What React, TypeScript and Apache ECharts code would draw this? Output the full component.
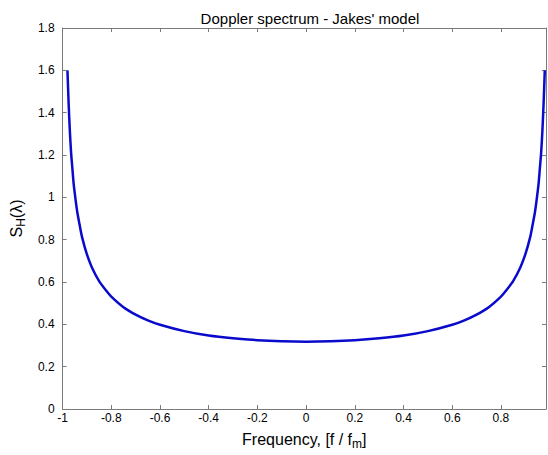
import React, { useEffect, useRef } from "react";
import * as echarts from "echarts";

const freq = [
  -0.98, -0.975, -0.97, -0.965, -0.96, -0.955, -0.95, -0.94, -0.93, -0.92, -0.9, -0.88, -0.85, -0.82, -0.8, -0.75, -0.7,
  -0.65, -0.6, -0.5, -0.4, -0.3, -0.2, -0.1, 0, 0.1, 0.2, 0.3, 0.4, 0.5, 0.6, 0.65, 0.7, 0.75, 0.8, 0.82, 0.85, 0.88,
  0.9, 0.92, 0.93, 0.94, 0.95, 0.955, 0.96, 0.965, 0.97, 0.975, 0.98,
];
const spectrum = [
  1.6, 1.44, 1.31, 1.21, 1.14, 1.07, 1.02, 0.933, 0.87, 0.812, 0.73, 0.67, 0.604, 0.558, 0.531, 0.481, 0.446,
  0.419, 0.398, 0.368, 0.347, 0.334, 0.325, 0.32, 0.318, 0.32, 0.325, 0.334, 0.347, 0.368, 0.398, 0.419, 0.446,
  0.481, 0.531, 0.558, 0.604, 0.67, 0.73, 0.812, 0.87, 0.933, 1.02, 1.07, 1.14, 1.21, 1.31, 1.44, 1.6,
];
const titleText = "Doppler spectrum - Jakes' model";

export default function App() {
  const ref = useRef<HTMLDivElement>(null);
  useEffect(() => {
    if (!ref.current) return;
    const chart = echarts.init(ref.current, undefined, { renderer: "svg" });
    const font = "'Liberation Sans', Arial, sans-serif";
    const axisLine = { show: true, onZero: false, lineStyle: { color: "#7a7a7a", width: 1 } };
    const tick = { show: true, inside: true, length: 4, lineStyle: { color: "#7a7a7a" } };
    chart.setOption({
      animation: false,
      backgroundColor: "#ffffff",
      title: {
        text: titleText,
        left: 305,
        textAlign: "center",
        top: 6,
        textStyle: { fontFamily: font, fontSize: 15, fontWeight: "normal", color: "#000" },
      },
      grid: { left: 62, right: 2, top: 28, bottom: 41, containLabel: false },
      xAxis: [
        {
          type: "value",
          min: -1,
          max: 0.985,
          interval: 0.2,
          axisLine,
          axisTick: tick,
          splitLine: { show: false },
          axisLabel: { showMaxLabel: false, fontFamily: font, fontSize: 12, color: "#000", margin: 3 },
          name: "{a|Frequency, [f / f}{s|m}{a|]}",
          nameLocation: "middle",
          nameGap: 19,
          nameTextStyle: {
            rich: {
              a: { fontFamily: font, fontSize: 16, color: "#000" },
              s: { fontFamily: font, fontSize: 12, color: "#000", verticalAlign: "top", padding: [10, 0, 0, 0] },
            },
          },
        },
        {
          type: "value",
          position: "top",
          min: -1,
          max: 0.985,
          interval: 0.2,
          axisLine,
          axisTick: tick,
          axisLabel: { show: false },
          splitLine: { show: false },
        },
      ],
      yAxis: [
        {
          type: "value",
          min: 0,
          max: 1.8,
          interval: 0.2,
          axisLine,
          axisTick: tick,
          splitLine: { show: false },
          axisLabel: { fontFamily: font, fontSize: 12, color: "#000", margin: 8 },
          name: "{a|S}{s|H}{a|(λ)}",
          nameLocation: "middle",
          nameGap: 27,
          nameRotate: 90,
          nameTextStyle: {
            rich: {
              a: { fontFamily: font, fontSize: 16, color: "#000" },
              s: { fontFamily: font, fontSize: 12, color: "#000", padding: [10, 0, 0, 0] },
            },
          },
        },
        {
          type: "value",
          position: "right",
          min: 0,
          max: 1.8,
          interval: 0.2,
          axisLine,
          axisTick: tick,
          axisLabel: { show: false },
          splitLine: { show: false },
        },
      ],
      series: [
        {
          type: "line",
          data: freq.map((f, i) => [f, spectrum[i]]),
          smooth: 0.3,
          showSymbol: false,
          lineStyle: { color: "#0a0acc", width: 2.5 },
          clip: false,
        },
      ],
    });
    return () => chart.dispose();
  }, []);
  return <div ref={ref} style={{ position: "fixed", left: 0, top: 0, width: 548, height: 455 }} />;
}
